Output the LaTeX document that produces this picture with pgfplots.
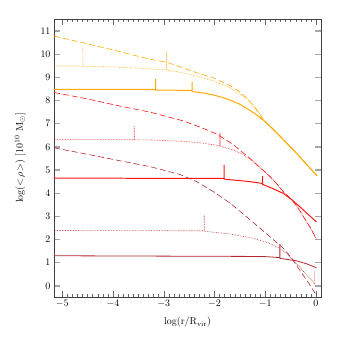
\documentclass[border=0pt]{standalone}
\usepackage{pgfplots}
\pgfplotsset{compat=1.18}

\definecolor{cOr}{RGB}{255,168,0}
\definecolor{cRd}{RGB}{255,20,20}
\definecolor{cDr}{RGB}{178,40,45}

\begin{document}
\begin{tikzpicture}
\path[use as bounding box] (-54bp,-54bp) rectangle (297bp,297bp);
\begin{axis}[
    at={(0,0)}, anchor=south west,
    scale only axis,
    width=267bp, height=278bp,
    xmin=-5.16, xmax=0.1,
    ymin=-0.48, ymax=11.52,
    xtick={-5,-4,-3,-2,-1,0},
    ytick={0,1,2,3,4,5,6,7,8,9,10,11},
    minor x tick num=9,
    axis line style={black!75},
    tick align=inside,
    major tick length=6bp,
    minor tick length=3bp,
    xtick style={black!60},
    ytick style={black!35, line width=1.3pt},
    xlabel={$\log(\mathrm{r/R_{vir}})$},
    ylabel={$\log(<\!\rho\!>)\ [10^{10}\ \mathrm{M}_\odot]$},
    xlabel style={at={(axis description cs:0.5,-0.09)}, anchor=center},
    ylabel style={at={(axis description cs:-0.127,0.5)}, anchor=center},
]
% orange group
\addplot[cOr, line width=0.6pt, dash pattern=on 6bp off 3bp] coordinates {
 (-5.16,10.78) (-4.5,10.45) (-3.86,10.11) (-3.3,9.8) (-2.94,9.65) (-2.68,9.46)
 (-2.35,9.2) (-2.02,8.98) (-1.69,8.64) (-1.52,8.4) (-1.36,8.1) (-1.2,7.7)
 (-1.04,7.2) (-0.88,6.84) (-0.71,6.47) (-0.55,6.1) (-0.38,5.72) (-0.2,5.28) (0.02,4.76)};
\addplot[cOr, line width=0.6pt, densely dotted] coordinates {
 (-5.16,9.49) (-4.59,9.49) (-4.59,10.28) (-4.59,9.48) (-4.0,9.45) (-3.5,9.4)
 (-2.94,9.32) (-2.94,10.11) (-2.94,9.31) (-2.68,9.22) (-2.35,9.05) (-2.02,8.85)
 (-1.69,8.55) (-1.36,8.08) (-1.2,7.7) (-1.04,7.2) (-0.88,6.84) (-0.71,6.47)
 (-0.55,6.1) (-0.38,5.72) (-0.2,5.28) (0.02,4.76)};
\addplot[cOr, line width=1pt] coordinates {
 (-5.16,8.48) (-3.16,8.48) (-3.16,8.93) (-3.16,8.45) (-2.44,8.44) (-2.44,8.81)
 (-2.44,8.39) (-2.2,8.32) (-2.02,8.24) (-1.85,8.14) (-1.69,8.02) (-1.52,7.86)
 (-1.36,7.66) (-1.2,7.43) (-1.04,7.16) (-0.88,6.84) (-0.71,6.47) (-0.55,6.1)
 (-0.38,5.72) (-0.2,5.28) (0.02,4.76)};
% red group
\addplot[cRd, line width=0.6pt, dash pattern=on 6bp off 3bp] coordinates {
 (-5.16,8.35) (-4.5,8.07) (-3.86,7.76) (-3.27,7.5) (-2.61,7.12) (-2.28,6.85)
 (-1.95,6.55) (-1.63,6.1) (-1.3,5.5) (-1.17,5.24) (-0.97,4.86) (-0.8,4.48)
 (-0.64,4.06) (-0.48,3.73) (-0.36,3.4) (-0.25,3.0) (-0.12,2.55) (0.01,2.02)};
\addplot[cRd, line width=0.6pt, densely dotted] coordinates {
 (-5.16,6.33) (-3.58,6.32) (-3.58,6.9) (-3.58,6.3) (-3.27,6.3) (-2.61,6.24)
 (-2.3,6.18) (-1.89,6.05) (-1.89,6.6) (-1.89,6.03) (-1.63,5.87) (-1.45,5.68)
 (-1.3,5.48) (-1.17,5.24) (-0.97,4.86) (-0.8,4.48) (-0.64,4.06) (-0.48,3.73)
 (-0.36,3.4) (-0.25,3.0) (-0.12,2.55) (0.01,2.02)};
\addplot[cRd, line width=1pt] coordinates {
 (-5.16,4.65) (-1.81,4.64) (-1.81,5.22) (-1.81,4.61) (-1.3,4.5) (-1.05,4.42)
 (-1.05,4.75) (-1.05,4.38) (-0.85,4.2) (-0.64,3.99) (-0.48,3.73) (-0.3,3.38)
 (-0.15,3.08) (0.01,2.76)};
% dark red group
\addplot[cDr, line width=0.6pt, dash pattern=on 6bp off 3bp] coordinates {
 (-5.16,5.96) (-4.5,5.68) (-3.86,5.4) (-3.27,5.15) (-2.68,4.81) (-2.35,4.5)
 (-2.02,4.07) (-1.69,3.57) (-1.36,2.97) (-1.0,2.3) (-0.64,1.62) (-0.48,1.2)
 (-0.31,0.65) (-0.15,0.15) (0.0,-0.38)};
\addplot[cDr, line width=0.6pt, densely dotted] coordinates {
 (-5.16,2.39) (-2.2,2.38) (-2.2,3.06) (-2.2,2.36) (-1.69,2.24) (-1.27,2.07)
 (-0.95,1.87) (-0.71,1.62) (-0.55,1.35) (-0.4,1.0) (-0.2,0.52) (-0.03,0.1)
 (-0.03,0.65)};
\addplot[cDr, line width=0.8pt] coordinates {
 (-5.16,1.3) (-1.04,1.27) (-0.71,1.22) (-0.71,1.8) (-0.71,1.19) (-0.38,1.08)
 (-0.18,0.95) (0.01,0.78)};
\end{axis}
\end{tikzpicture}
\end{document}
